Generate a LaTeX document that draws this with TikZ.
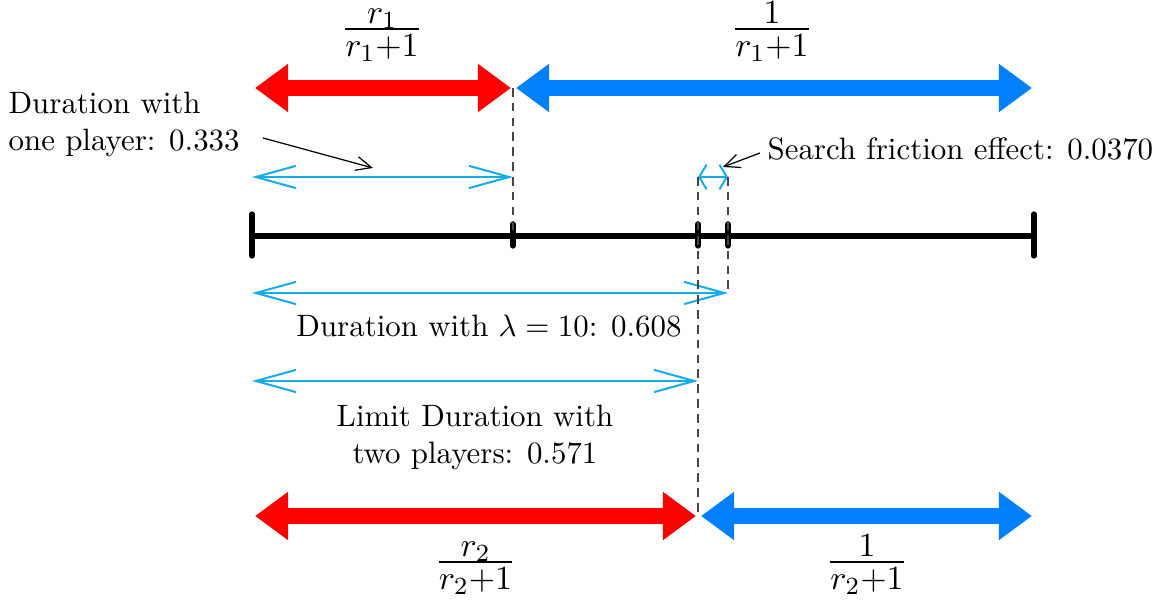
\documentclass[tikz,border=0pt]{standalone}
\usepackage{amsmath}
\usetikzlibrary{arrows.meta}
\definecolor{shareRed}{RGB}{255,0,0}
\definecolor{shareBlue}{RGB}{0,128,255}
\definecolor{spanCyan}{RGB}{20,172,235}
\definecolor{guideGray}{RGB}{70,70,70}
% compact display fraction: numerator and denominator pulled toward the bar
\newcommand{\shareFrac}[2]{\dfrac{\smash{\raisebox{-3pt}{$#1$}}}{\smash{\raisebox{1.4pt}{$#2$}}}}
\tikzset{
  share/.style={line width=5.2pt,
    {Triangle[length=10.7pt,width=14.9pt]}-{Triangle[length=10.7pt,width=14.9pt]}},
  span/.style={spanCyan,line width=0.65pt,
    {Straight Barb[length=13pt,width=7.2pt]}-{Straight Barb[length=13pt,width=7.2pt]}},
  smallspan/.style={spanCyan,line width=0.65pt,
    {Straight Barb[length=2.4pt,width=8pt]}-{Straight Barb[length=2.4pt,width=8pt]}},
  guide/.style={guideGray,line width=0.4pt,dash pattern=on 2.8pt off 2pt},
  pointer/.style={black,line width=0.4pt,-{Straight Barb[length=5pt,width=4.5pt]}},
  endtick/.style={line width=1.7pt,line cap=round},
  midtick/.style={line width=1.7pt,line cap=round},
  lbl/.style={inner sep=0pt,font=\normalsize},
  fraclbl/.style={inner sep=0pt,anchor=base,font=\fontsize{11}{13}\selectfont},
}
\begin{document}
\begin{tikzpicture}[x=0.3236pt,y=-0.3236pt]
\useasboundingbox (0,0) rectangle (1169,601);

% points on the unit interval
\coordinate (a0) at (252,236);
\coordinate (a1) at (1034,236);
\coordinate (t1) at (513,236);
\coordinate (t2) at (698,236);
\coordinate (t3) at (728,236);

% main interval with ticks
\draw[line width=1.8pt] (a0) -- (a1);
\draw[endtick] (252,214) -- (252,256);
\draw[endtick] (1034,214) -- (1034,256);
\draw[midtick] (513,224) -- (513,246);
\draw[midtick] (698,224) -- (698,246);
\draw[midtick] (728,224) -- (728,246);

% shares for the first player
\coordinate (r1L) at (255,88);
\coordinate (r1R) at (511,88);
\coordinate (b1L) at (516,88);
\coordinate (b1R) at (1032,88);
\draw[share,shareRed] (r1L) -- (r1R);
\draw[share,shareBlue] (b1L) -- (b1R);
\node[fraclbl] (f1) at (382,37.5) {$\shareFrac{r_1}{r_1{+}1}$};
\node[fraclbl] (g1) at (772,37.5) {$\shareFrac{1}{r_1{+}1}$};

% shares for the second player
\coordinate (r2L) at (255,516);
\coordinate (r2R) at (696,516);
\coordinate (b2L) at (701,516);
\coordinate (b2R) at (1032,516);
\draw[share,shareRed] (r2L) -- (r2R);
\draw[share,shareBlue] (b2L) -- (b2R);
\node[fraclbl] (f2) at (475.5,570.5) {$\shareFrac{r_2}{r_2{+}1}$};
\node[fraclbl] (g2) at (867,570.5) {$\shareFrac{1}{r_2{+}1}$};

% duration spans
\coordinate (s1L) at (252,177);
\coordinate (s1R) at (513,177);
\coordinate (sfL) at (698,177);
\coordinate (sfR) at (728,177);
\coordinate (s3L) at (252,293);
\coordinate (s3R) at (728,293);
\coordinate (s4L) at (252,381);
\coordinate (s4R) at (698,381);
\draw[span] (s1L) -- (s1R);
\draw[smallspan] (sfL) -- (sfR);
\draw[span] (s3L) -- (s3R);
\draw[span] (s4L) -- (s4R);

% dashed guides
\draw[guide] (513,88) -- (t1);
\draw[guide] (sfL) -- (t2);
\draw[guide] (sfR) -- (t3);
\draw[guide] (t3) -- (s3R);
\draw[guide] (t2) -- (698,514);

% labels
\node[lbl,anchor=west,align=left] (one) at (8,124)
  {Duration with\\one player: 0.333};
\node[lbl,anchor=west] (sf) at (767,149) {Search friction effect: 0.0370};
\node[lbl] (lam) at (489,326) {Duration with $\lambda=10$: 0.608};
\node[lbl,align=center] (lim) at (475,437)
  {Limit Duration with\\two players: 0.571};

% pointers
\coordinate (p1) at (263,138);
\coordinate (p1e) at (373,168);
\coordinate (p2) at (760,153);
\coordinate (p2e) at (723,167);
\draw[pointer] (p1) -- (p1e);
\draw[pointer] (p2) -- (p2e);
\end{tikzpicture}
\end{document}
